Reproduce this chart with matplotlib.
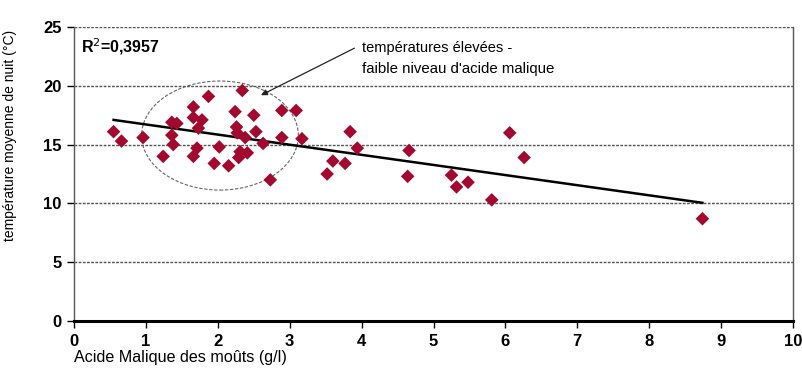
import matplotlib
matplotlib.use("Agg")
import matplotlib.pyplot as plt
from matplotlib.patches import Ellipse

# values
malique = [0.55, 0.66, 0.96, 1.24, 1.36, 1.43, 1.36, 1.38, 1.66, 1.66, 1.78, 1.73,
           1.87, 1.71, 1.66, 1.95, 2.02, 2.15, 2.24, 2.26, 2.27, 2.34, 2.29, 2.31,
           2.41, 2.38, 2.50, 2.53, 2.63, 2.73, 2.89, 2.89, 3.09, 3.17, 3.52, 3.60,
           3.77, 3.84, 3.94, 4.66, 4.64, 5.25, 5.32, 5.48, 5.81, 6.06, 6.26, 8.74]
temp_nuit = [16.1, 15.3, 15.6, 14.0, 16.9, 16.8, 15.8, 15.0, 18.2, 17.3, 17.1, 16.4,
             19.1, 14.7, 14.0, 13.4, 14.8, 13.2, 17.8, 16.5, 16.0, 19.6, 13.9, 14.4,
             14.3, 15.6, 17.5, 16.1, 15.1, 12.0, 17.9, 15.6, 17.9, 15.5, 12.5, 13.6,
             13.4, 16.1, 14.7, 14.5, 12.3, 12.4, 11.4, 11.8, 10.3, 16.0, 13.9, 8.7]
trend_x = [0.55, 8.74]
trend_y = [17.1, 10.05]
y_ticks = [0, 5, 10, 15, 20, 25]
x_ticks = list(range(0, 11))

plt.rcParams["font.family"] = ["Liberation Sans", "DejaVu Sans"]

fig = plt.figure(figsize=(8.02, 3.77), dpi=100)
ax = fig.add_axes([0.0923, 0.1485, 0.8965, 0.7799])

ax.set_xlim(0, 10)
ax.set_ylim(0, 25)

for y in y_ticks[1:]:
    ax.axhline(y, color="#555555", linestyle=(0, (2, 1)), linewidth=1.0, zorder=1)

ax.plot(trend_x, trend_y, color="black", linewidth=1.8, zorder=3)
ax.scatter(malique, temp_nuit, marker="D", s=48, color="#a3092f", edgecolors="none", zorder=4)

ell = Ellipse((2.03, 15.77), 2.18, 9.27, fill=False, edgecolor="#666666",
              linestyle=(0, (3, 1.5)), linewidth=0.8, zorder=2)
ax.add_patch(ell)

ax.annotate("", xy=(2.6, 19.2), xytext=(3.9, 23.2),
            arrowprops=dict(arrowstyle="-|>", color="#222222", lw=0.9,
                            mutation_scale=9, shrinkA=0, shrinkB=0))
ax.text(4.0, 23.25, "températures élevées -", fontsize=10.5, va="center", ha="left")
ax.text(4.0, 21.45, "faible niveau d'acide malique", fontsize=10.8, va="center", ha="left")
ax.text(0.1, 23.3, "R$^2$=0,3957", fontsize=11.5, fontweight="bold", va="center", ha="left")

ax.set_xticks(x_ticks)
ax.set_yticks(y_ticks)
ax.tick_params(axis="both", labelsize=12, length=5, width=1, direction="out", pad=4)
for lab in ax.get_xticklabels() + ax.get_yticklabels():
    lab.set_fontweight("bold")

for side in ["left", "right", "top"]:
    ax.spines[side].set_linestyle((0, (2, 1)))
    ax.spines[side].set_color("#555555")
    ax.spines[side].set_linewidth(1.0)
ax.spines["top"].set_visible(False)
ax.spines["bottom"].set_linewidth(2.2)
ax.spines["bottom"].set_color("black")

ax.set_xlabel("Acide Malique des moûts (g/l)", fontsize=11.6, loc="left", labelpad=1)
ax.set_ylabel("température moyenne de nuit (°C)", fontsize=10)
ax.yaxis.set_label_coords(-0.08, 0.63)

fig.savefig("out.png", dpi=100)
